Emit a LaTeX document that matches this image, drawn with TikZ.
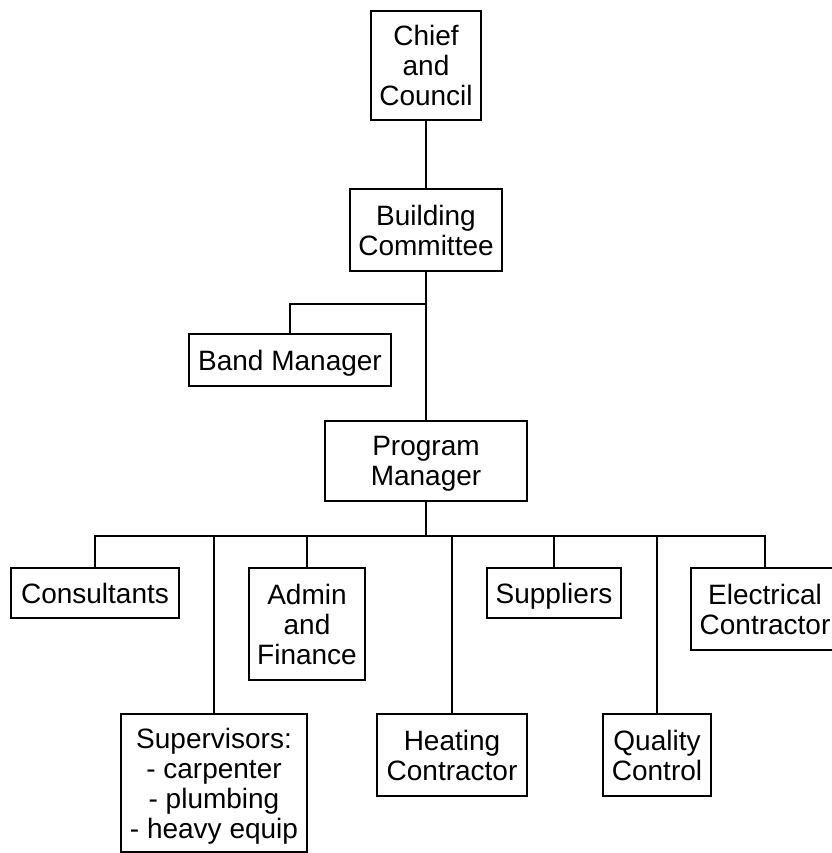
\documentclass[tikz,border=0pt]{standalone}
\usepackage{fontspec}
\setmainfont{Liberation Sans}
\usepackage{tikz}
\usetikzlibrary{positioning}
\tikzstyle{block} = [draw, rectangle, line width = 2pt, align = center, inner xsep = 4pt, inner ysep = 2pt, text depth = 0pt, font = \fontsize{28pt}{30pt}\selectfont]
\tikzstyle{link} = [line width = 2pt]
\begin{document}
\begin{tikzpicture}[x = 1pt, y = -1pt]
		\useasboundingbox (0, 0) rectangle (831, 853);

		% Top of the chart
		\node[block, minimum width = 110pt, minimum height = 109pt] (chief) at (426, 65.5) {Chief\\and\\Council};
		\node[block, below = 67pt of chief, minimum width = 152pt, minimum height = 82pt] (bc) {Building\\Committee};
		\coordinate[below = 32pt of bc] (split);
		\node[block, minimum width = 202pt, minimum height = 52pt, anchor = north] (bm) at (290, 333) {Band Manager};
		\node[block, below = 148pt of bc, minimum width = 202pt, minimum height = 80pt] (pm) {Program\\Manager};
		\coordinate[below = 34pt of pm] (bus);

		% First row under the program manager
		\node[block, anchor = north, minimum width = 168pt, minimum height = 50pt] (cons) at (95, 567) {Consultants};
		\node[block, anchor = north, minimum width = 116pt, minimum height = 112pt] (admin) at (307, 567) {Admin\\and\\Finance};
		\node[block, anchor = north, minimum width = 134pt, minimum height = 50pt] (supp) at (554, 567) {Suppliers};
		\node[block, anchor = north, minimum width = 148pt, minimum height = 82pt] (elec) at (765, 567) {Electrical\\Contractor};

		% Second row
		\node[block, anchor = north, minimum width = 186pt, minimum height = 138pt] (superv) at (214, 713) {Supervisors:\\- carpenter\\- plumbing\\- heavy equip};
		\node[block, anchor = north, minimum width = 150pt, minimum height = 82pt] (heat) at (452, 713) {Heating\\Contractor};
		\node[block, anchor = north, minimum width = 108pt, minimum height = 82pt] (qual) at (657, 713) {Quality\\Control};

		% Connect all nodes defined above
		\draw[link] (chief) -- (bc);
		\draw[link] (bc) -- (pm);
		\draw[link] (split) -| (bm);
		\draw[link] (pm) -- (bus);
		\draw[link] (bus) -| (cons);
		\draw[link] (bus) -| (superv);
		\draw[link] (bus) -| (admin);
		\draw[link] (bus) -| (heat);
		\draw[link] (bus) -| (supp);
		\draw[link] (bus) -| (qual);
		\draw[link] (bus) -| (elec);

	\end{tikzpicture}
\end{document}
